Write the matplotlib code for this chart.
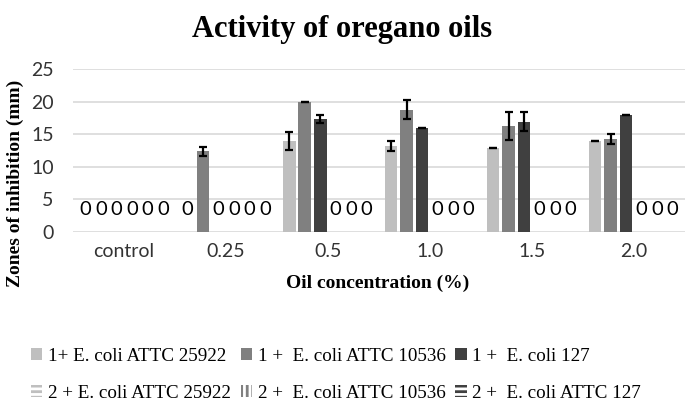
import matplotlib
matplotlib.use("Agg")
import matplotlib.pyplot as plt
from matplotlib.patches import Patch
import numpy as np

categories = ["control", "0.25", "0.5", "1.0", "1.5", "2.0"]
labels = ["1+ E. coli ATTC 25922", "1 +  E. coli ATTC 10536", "1 +  E. coli 127",
          "2 + E. coli ATTC 25922", "2 +  E. coli ATTC 10536", "2 +  E. coli ATTC 127"]
s1 = [0, 0, 14.0, 13.2, 12.9, 14.0]
s2 = [0, 12.4, 19.9, 18.8, 16.3, 14.3]
s3 = [0, 0, 17.4, 15.9, 16.9, 18.0]
s4 = [0, 0, 0, 0, 0, 0]
s5 = [0, 0, 0, 0, 0, 0]
s6 = [0, 0, 0, 0, 0, 0]
e1 = [0, 0, 1.4, 0.7, 0, 0]
e2 = [0, 0.7, 0, 1.4, 2.1, 0.75]
e3 = [0, 0, 0.6, 0, 1.45, 0]
e4 = [0, 0, 0, 0, 0, 0]
e5 = [0, 0, 0, 0, 0, 0]
e6 = [0, 0, 0, 0, 0, 0]

series = [s1, s2, s3, s4, s5, s6]
errors = [e1, e2, e3, e4, e5, e6]
colors = ["#bfbfbf", "#808080", "#404040", "#bfbfbf", "#808080", "#404040"]
hatches = [None, None, None, "---", "|||", "---"]

plt.rcParams["hatch.linewidth"] = 2.0
serif = "Liberation Serif"
sans = "Lato"

fig = plt.figure(figsize=(6.96, 4.07), dpi=100)
ax = fig.add_axes([0.105, 0.430, 0.879, 0.400])

x = np.arange(len(categories))
pitch = 0.152
width = 0.123
for i, (vals, errs) in enumerate(zip(series, errors)):
    pos = x + (i - 2.5) * pitch
    ax.bar(pos, vals, width, color=colors[i], zorder=2)
    for p, v, e in zip(pos, vals, errs):
        if v > 0:
            ax.errorbar(p, v, yerr=e, color="black", lw=1.6, capsize=3, capthick=1.6, zorder=3)
        else:
            ax.annotate("0", (p, 0), xytext=(0, 10), textcoords="offset points",
                        ha="center", va="bottom", fontsize=14.5, family=sans)

ax.set_ylim(0, 25)
ax.set_xlim(-0.5, len(categories) - 0.5)
ax.set_yticks([0, 5, 10, 15, 20, 25])
ax.grid(axis="y", color="#d9d9d9", lw=1.2, zorder=0)
ax.set_axisbelow(True)
for s in ax.spines.values():
    s.set_visible(False)
ax.tick_params(length=0, labelsize=14, pad=14)
ax.tick_params(axis="x", pad=8)
ax.set_xticks(x)
ax.set_xticklabels(categories)
for t in ax.get_xticklabels() + ax.get_yticklabels():
    t.set_family(sans)
    t.set_color("#333333")

fig.text(0.491, 0.928, "Activity of oregano oils", ha="center", va="center",
         fontsize=22, fontweight="bold", family=serif)
fig.text(0.543, 0.305, "Oil concentration (%)", ha="center", va="center",
         fontsize=14, fontweight="bold", family=serif)
fig.text(0.022, 0.55, "Zones of inhibition (mm)", ha="center", va="center", rotation=90,
         fontsize=14, fontweight="bold", family=serif)

handles = []
for i in range(6):
    if hatches[i]:
        handles.append(Patch(facecolor="white", edgecolor=colors[i], hatch=hatches[i], lw=0))
    else:
        handles.append(Patch(facecolor=colors[i], lw=0))
order = [0, 3, 1, 4, 2, 5]
fig.legend([handles[k] for k in order], [labels[k] for k in order], ncol=3,
           loc="lower left", bbox_to_anchor=(0.02, -0.03), frameon=False,
           prop={"family": serif, "size": 13.7}, handlelength=0.6, handleheight=0.6,
           handletextpad=0.3, columnspacing=0.5, labelspacing=1.05)

fig.savefig("out.png", dpi=100)
